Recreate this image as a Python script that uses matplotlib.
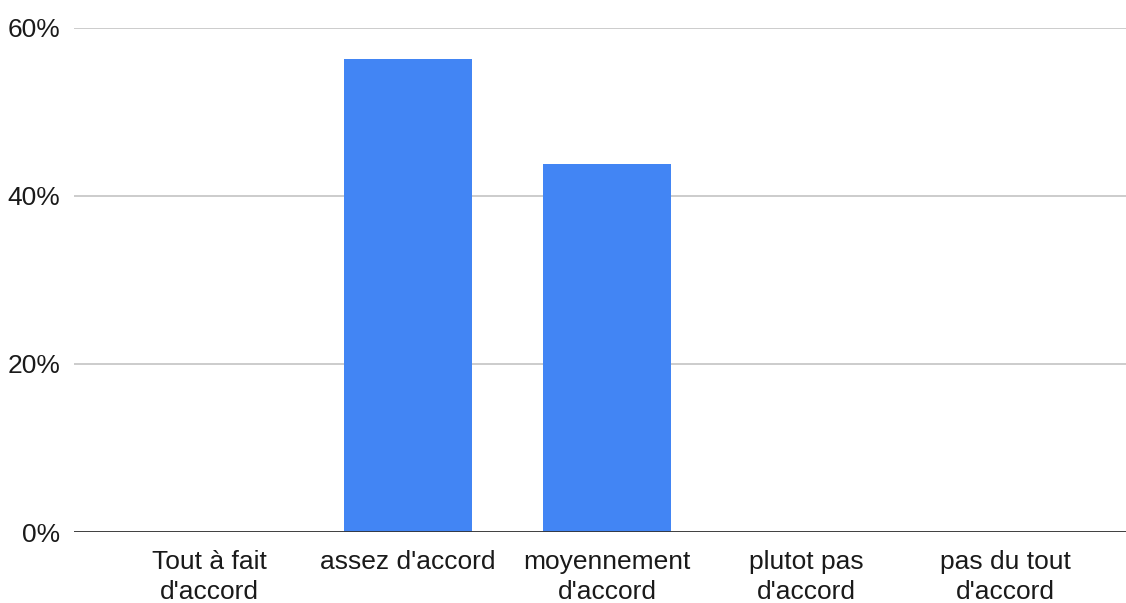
import matplotlib.pyplot as plt
from matplotlib.ticker import PercentFormatter

categories = ["Tout à fait\nd'accord", "assez d'accord", "moyennement\nd'accord",
              "plutot pas\nd'accord", "pas du tout\nd'accord"]
values = [0, 56.25, 43.75, 0, 0]
yticks = [0, 20, 40, 60]

plt.rcParams["font.family"] = ["Liberation Sans", "DejaVu Sans"]

fig = plt.figure(figsize=(11.26, 6.03), dpi=100)
ax = fig.add_axes([74 / 1126, 1 - 532 / 603, 1 - 74 / 1126, (532 - 27.5) / 603])

x = list(range(len(categories)))
ax.bar(x, values, width=0.645, color="#4285f4", zorder=3)

ax.set_ylim(0, 60)
ax.set_xlim((74 - 209) / 199, (1126 - 209) / 199)
ax.set_yticks(yticks)
ax.yaxis.set_major_formatter(PercentFormatter(decimals=0))
ax.grid(axis="y", color="#c8c8c8", linewidth=1.3, zorder=0)
ax.axhline(0, color="#333333", linewidth=2, zorder=4)

ax.set_xticks(x)
ax.set_xticklabels(categories, fontsize=19, linespacing=1.3, va="top")
ax.tick_params(axis="both", length=0, labelsize=19, colors="#1a1a1a")
ax.tick_params(axis="x", pad=13)
ax.tick_params(axis="y", pad=10)
for s in ax.spines.values():
    s.set_visible(False)

fig.savefig("out.png", dpi=100)
